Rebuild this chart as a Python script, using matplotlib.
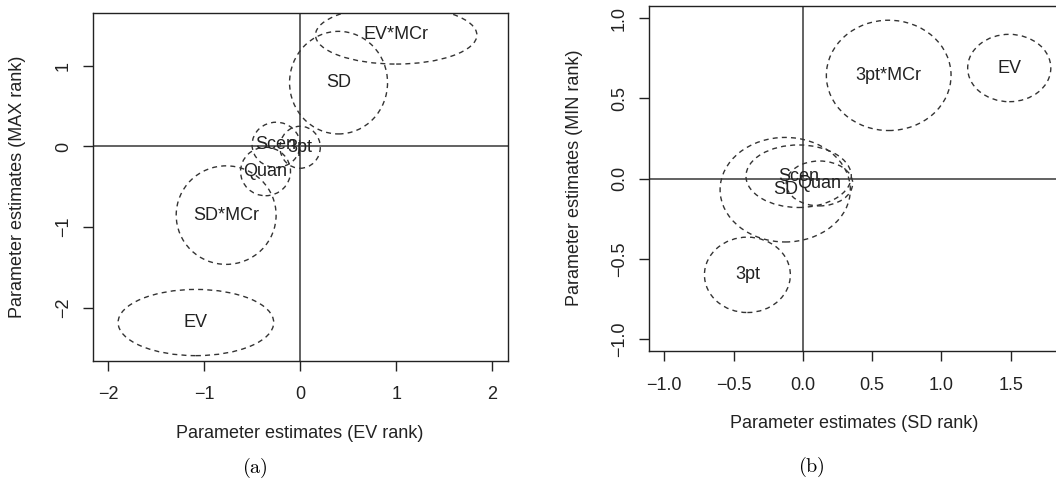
import matplotlib
matplotlib.use("Agg")
import matplotlib.pyplot as plt
from matplotlib.patches import Ellipse

# ---- data: parameter estimates (centre) and spread (half-widths) per term ----
# Panel (a): EV rank vs MAX rank
a_names = ["EV*MCr", "SD", "Scen", "3pt", "Quan", "SD*MCr", "EV"]
a_x = [1.00, 0.40, -0.25, 0.00, -0.36, -0.77, -1.085]
a_y = [1.38, 0.79, 0.02, -0.01, -0.31, -0.85, -2.18]
a_rx = [0.84, 0.51, 0.25, 0.21, 0.26, 0.52, 0.81]
a_ry = [0.36, 0.635, 0.28, 0.26, 0.30, 0.61, 0.41]
a_xticks = [-2, -1, 0, 1, 2]
a_yticks = [-2, -1, 0, 1]

# Panel (b): SD rank vs MIN rank
b_names = ["3pt*MCr", "EV", "Scen", "SD", "Quan", "3pt"]
b_x = [0.62, 1.49, -0.03, -0.127, 0.12, -0.40]
b_y = [0.644, 0.69, 0.015, -0.069, -0.03, -0.60]
b_rx = [0.45, 0.30, 0.38, 0.47, 0.24, 0.31]
b_ry = [0.344, 0.21, 0.195, 0.326, 0.14, 0.235]
b_xticks = [-1.0, -0.5, 0.0, 0.5, 1.0, 1.5]
b_yticks = [-1.0, -0.5, 0.0, 0.5, 1.0]

plt.rcParams["font.family"] = ["Liberation Sans", "DejaVu Sans"]
plt.rcParams["mathtext.fontset"] = "cm"

W, H = 1056, 497
fig = plt.figure(figsize=(W / 100, H / 100), dpi=100)
fig.patch.set_facecolor("white")

INK = "#222222"
FS = 13


def fmt(v, dec):
    s = f"{v:.{dec}f}"
    return s.replace("-", "\u2212")


def panel(rect, names, xs, ys, rxs, rys, xlim, ylim, xticks, yticks, dec):
    ax = fig.add_axes(rect)
    ax.set_xlim(*xlim)
    ax.set_ylim(*ylim)
    ax.axhline(0, color="#555555", lw=1.3, zorder=1)
    ax.axvline(0, color="#555555", lw=1.3, zorder=1)
    for n, x, y, rx, ry in zip(names, xs, ys, rxs, rys):
        ax.add_patch(Ellipse((x, y), 2 * rx, 2 * ry, fill=False,
                             edgecolor="#333333", lw=1.0,
                             linestyle=(0, (3.6, 3.0)), zorder=2))
        ax.text(x, y, n, ha="center", va="center", fontsize=FS,
                color=INK, zorder=3)
    ax.set_xticks(xticks)
    ax.set_xticklabels([fmt(v, dec) for v in xticks])
    ax.set_yticks(yticks)
    ax.set_yticklabels([fmt(v, dec) for v in yticks], rotation=90,
                       va="center")
    ax.tick_params(axis="both", direction="out", length=7.5, width=1.0,
                   color=INK, labelsize=FS, labelcolor=INK)
    ax.tick_params(axis="x", pad=11)
    ax.tick_params(axis="y", pad=8)
    for s in ax.spines.values():
        s.set_color(INK)
        s.set_linewidth(1.0)
    return ax


def frac_rect(x0, x1, y0, y1):
    return [x0 / W, 1 - y1 / H, (x1 - x0) / W, (y1 - y0) / H]


panel(frac_rect(93.3, 508, 12.7, 360.5), a_names, a_x, a_y, a_rx, a_ry,
      (-2.153, 2.164), (-2.65, 1.656), a_xticks, a_yticks, 0)
panel(frac_rect(649.3, 1058.7, 5.7, 351), b_names, b_x, b_y, b_rx, b_ry,
      (-1.108, 1.847), (-1.075, 1.0786), b_xticks, b_yticks, 1)

# axis titles
fig.text(300 / W, 1 - 434 / H, "Parameter estimates (EV rank)",
         ha="center", va="center", fontsize=FS, color=INK)
fig.text(854 / W, 1 - 423 / H, "Parameter estimates (SD rank)",
         ha="center", va="center", fontsize=FS, color=INK)
fig.text(17.5 / W, 1 - 187 / H, "Parameter estimates (MAX rank)",
         ha="center", va="center", rotation=90, fontsize=FS, color=INK)
fig.text(574.6 / W, 1 - 178 / H, "Parameter estimates (MIN rank)",
         ha="center", va="center", rotation=90, fontsize=FS, color=INK)

# sub-figure captions
fig.text(255 / W, 1 - 468 / H, r"$\mathrm{(a)}$", ha="center", va="center",
         fontsize=14.5, color="black")
fig.text(811 / W, 1 - 467 / H, r"$\mathrm{(b)}$", ha="center", va="center",
         fontsize=14.5, color="black")

fig.savefig("out.png", dpi=100, facecolor="white")
